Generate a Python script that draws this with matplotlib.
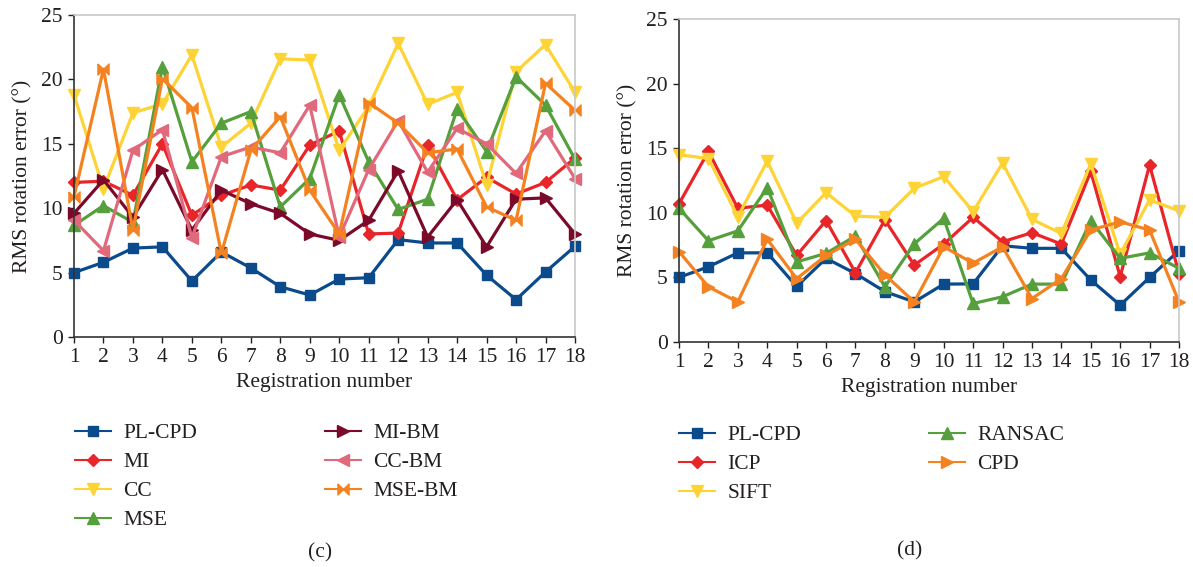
import numpy as np
import matplotlib
matplotlib.use("Agg")
import matplotlib.pyplot as plt

# --- datos ---
reg_numbers = list(range(1, 19))

# panel (c)
pl_cpd_c = [5.0, 5.8, 6.9, 7.0, 4.35, 6.6, 5.36, 3.9, 3.26, 4.5, 4.6, 7.56, 7.3, 7.3, 4.8, 2.9, 5.05, 7.04]
mi = [12.0, 12.1, 11.0, 15.0, 9.45, 11.0, 11.8, 11.4, 14.9, 16.0, 8.0, 8.07, 14.9, 10.66, 12.4, 11.1, 12.0, 13.9]
cc = [18.8, 11.5, 17.4, 18.1, 21.9, 14.75, 16.6, 21.6, 21.5, 14.5, 17.9, 22.8, 18.06, 19.0, 11.8, 20.6, 22.7, 19.0]
mse = [8.67, 10.2, 8.9, 21.0, 13.6, 16.6, 17.5, 10.1, 12.3, 18.8, 13.6, 9.9, 10.7, 17.7, 14.4, 20.2, 18.0, 13.8]
mi_bm = [9.6, 12.2, 9.3, 13.0, 8.3, 11.4, 10.35, 9.6, 8.0, 7.5, 9.06, 12.9, 7.76, 10.66, 7.0, 10.7, 10.8, 8.0]
cc_bm = [9.06, 6.7, 14.5, 16.1, 7.7, 14.0, 14.75, 14.3, 18.0, 7.76, 13.0, 16.8, 12.8, 16.2, 15.0, 12.7, 16.0, 12.3]
mse_bm = [10.9, 20.8, 8.3, 20.06, 17.8, 6.5, 14.5, 17.1, 11.4, 8.0, 18.2, 16.6, 14.3, 14.6, 10.1, 9.06, 19.7, 17.6]

# panel (d)
pl_cpd_d = [5.0, 5.82, 6.9, 6.9, 4.3, 6.47, 5.3, 3.9, 3.1, 4.48, 4.5, 7.45, 7.25, 7.25, 4.8, 2.85, 5.0, 7.07]
icp = [10.7, 14.75, 10.35, 10.6, 6.7, 9.4, 5.36, 9.45, 5.95, 7.58, 9.65, 7.76, 8.46, 7.58, 13.2, 5.05, 13.7, 5.3]
sift = [14.5, 14.2, 9.7, 14.0, 9.2, 11.56, 9.75, 9.65, 11.9, 12.8, 10.1, 13.85, 9.5, 8.4, 13.8, 6.8, 11.0, 10.15]
ransac = [10.35, 7.84, 8.6, 11.95, 6.2, 6.86, 8.2, 4.27, 7.6, 9.57, 2.98, 3.5, 4.48, 4.48, 9.4, 6.47, 6.9, 5.7]
cpd = [7.0, 4.27, 3.1, 7.95, 4.9, 6.7, 7.95, 5.2, 3.1, 7.37, 6.1, 7.37, 3.36, 4.9, 8.67, 9.3, 8.67, 3.1]

labels_c = ["PL-CPD", "MI", "CC", "MSE", "MI-BM", "CC-BM", "MSE-BM"]
labels_d = ["PL-CPD", "ICP", "SIFT", "RANSAC", "CPD"]

BLUE = "#0b4a8b"
RED = "#e8262a"
YELLOW = "#fdd335"
GREEN = "#55a03c"
DARKRED = "#7b0a2a"
PINK = "#e06a7b"
ORANGE = "#f58220"
TXT = "#231f20"

# marcador "bowtie" para MSE-BM
bowtie = [(-1, 1), (1, -1), (1, 1), (-1, -1), (-1, 1)]

styles_c = [
    (BLUE, "s", 7.5), (RED, "D", 6), (YELLOW, "v", 8.5), (GREEN, "^", 8.5),
    (DARKRED, ">", 8.5), (PINK, "<", 8.5), (ORANGE, bowtie, 8),
]
styles_d = [
    (BLUE, "s", 7.5), (RED, "D", 6), (YELLOW, "v", 8.5), (GREEN, "^", 8.5),
    (ORANGE, ">", 8.5),
]

plt.rcParams["font.family"] = ["Liberation Serif", "DejaVu Serif"]
plt.rcParams["text.color"] = TXT
plt.rcParams["axes.labelcolor"] = TXT
plt.rcParams["xtick.color"] = TXT
plt.rcParams["ytick.color"] = TXT

fig = plt.figure(figsize=(11.93, 5.67), dpi=100)
ax_c = fig.add_axes([74 / 1193, 1 - 337 / 567, (575 - 74) / 1193, (337 - 15) / 567])
ax_d = fig.add_axes([679 / 1193, 1 - 342 / 567, (1179 - 679) / 1193, (342 - 19) / 567])


def draw_panel(ax, series, labels, styles):
    handles = []
    for vals, lab, (col, mk, ms) in zip(series, labels, styles):
        h, = ax.plot(reg_numbers, vals, color=col, marker=mk, markersize=ms,
                     linewidth=2.3, label=lab, clip_on=False)
        handles.append(h)
    ax.set_xlim(1, 18)
    ax.set_ylim(0, 25)
    ax.set_xticks(reg_numbers)
    ax.set_yticks([0, 5, 10, 15, 20, 25])
    ax.tick_params(labelsize=15.5, length=4, width=1, direction="out", pad=4)
    ax.set_xlabel("Registration number", fontsize=15.5, labelpad=4)
    ax.set_ylabel("RMS rotation error (°)", fontsize=15.5, labelpad=6)
    for s in ["left", "bottom"]:
        ax.spines[s].set_color("#333333")
        ax.spines[s].set_linewidth(1.2)
    for s in ["top", "right"]:
        ax.spines[s].set_color("#c8c8c8")
        ax.spines[s].set_linewidth(1.2)
    return handles


h_c = draw_panel(ax_c, [pl_cpd_c, mi, cc, mse, mi_bm, cc_bm, mse_bm], labels_c, styles_c)
h_d = draw_panel(ax_d, [pl_cpd_d, icp, sift, ransac, cpd], labels_d, styles_d)


def column_legend(handles, x_px, y_px):
    leg = fig.legend(handles=handles, loc="upper left",
                     bbox_to_anchor=(x_px / 1193, 1 - y_px / 567),
                     frameon=False, fontsize=15.5, handlelength=1.65,
                     handletextpad=0.6, labelspacing=0.42, borderaxespad=0,
                     borderpad=0)
    for ln in leg.get_lines():
        ln.set_linewidth(1.5)
    return leg


column_legend(h_c[:4], 75, 423)
column_legend(h_c[4:], 325, 423)
column_legend(h_d[:3], 679, 425)
column_legend(h_d[3:], 929, 425)

fig.text(320 / 1193, 1 - 553 / 567, "(c)", fontsize=15.5, ha="center", va="center")
fig.text(910 / 1193, 1 - 551 / 567, "(d)", fontsize=15.5, ha="center", va="center")

fig.savefig("out.png", dpi=100)
